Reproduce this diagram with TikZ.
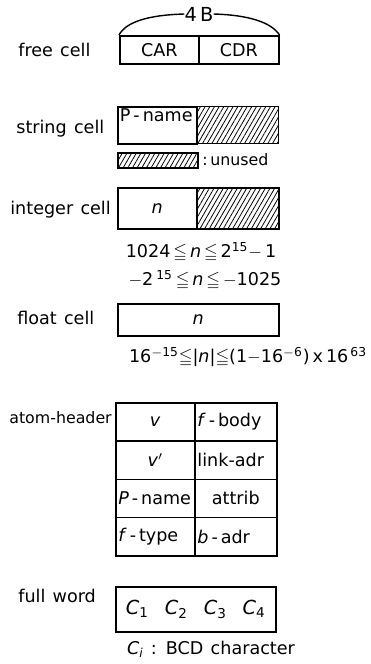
\documentclass[tikz,border=0pt]{standalone}
\usepackage{amsmath,amssymb}
\usepackage{fontspec}
\setmainfont[WordSpace=1.3]{DejaVu Sans}
\usetikzlibrary{patterns.meta}

\begin{document}
\begin{tikzpicture}[
    x=0.02cm, y=-0.02cm,
    font=\fontsize{10}{12}\selectfont,
    % Styles
    cell/.style={rectangle, draw=black, line width=0.9pt, inner sep=0pt, anchor=north west, minimum height=#1},
    cell/.default=0.56cm,
    unused/.style={pattern={Lines[angle=60,distance=2.3pt,line width=0.45pt]}},
    lcell/.style={cell=#1, text width=1.64cm-3pt, inner xsep=1.5pt, align=left},
    tag/.style={anchor=west, inner sep=0pt},
    note/.style={inner sep=0pt},
    arc/.style={line width=0.8pt}
]
\useasboundingbox (0,0) rectangle (371,664);

% --- Free cell ---
\node[cell, minimum width=1.58cm] (car) at (119,35) {CAR};
\node[cell, minimum width=1.60cm] (cdr) at (198,35) {CDR};
\node[note, font=\fontsize{11}{12}\selectfont] (fourb) at (199,14) {4\,B};
\node[tag] (freelbl) at (18,50) {free cell};
\draw[arc] (car.north west) .. controls (126,22) and (148,15) .. (fourb.west);
\draw[arc] (cdr.north east) .. controls (271,22) and (248,15) .. (fourb.east);

% --- String cell ---
\node[cell=0.74cm, minimum width=1.58cm] (pname) at (117,106) {};
\node[cell=0.74cm, minimum width=1.64cm, unused] (strfree) at (196,106) {};
\node[anchor=north west, inner sep=1.5pt] (pnametxt) at (pname.north west) {P\,-\,name};
\node[tag] (strlbl) at (16,129) {string cell};

% legend
\node[cell=0.3cm, minimum width=1.60cm, unused] (legend) at (117,152) {};
\node[tag, font=\fontsize{9}{11}\selectfont] (legendtxt) at (202,160) {:\,unused};

% --- Integer cell ---
\node[cell=0.82cm, minimum width=1.58cm] (intn) at (117,187) {\textit{n}};
\node[cell=0.82cm, minimum width=1.64cm, unused] (intfree) at (196,187) {};
\node[tag] (intlbl) at (10,210) {integer cell};
\node[note] (intpos) at (201,252) {1024\,$\leqq$\,\textit{n}\,$\leqq$\,2\textsuperscript{15}$-$\,1};
\node[note] (intneg) at (205,280) {$-$2\,\textsuperscript{15}\,$\leqq$\,\textit{n}\,$\leqq$\,$-$1025};

% --- Float cell ---
\node[cell=0.64cm, minimum width=3.22cm] (floatn) at (117,303) {\textit{n}};
\node[tag] (floatlbl) at (17,318) {float cell};
\node[note] (floatrng) at (248,357) {16\textsuperscript{$-$15}$\leqq$|\textit{n}|$\leqq$(1$-$16\textsuperscript{$-$6})\,x\,16\textsuperscript{\,63}};

% --- Atom header ---
\node[cell=0.765cm, minimum width=1.58cm] (av) at (115,402) {\textit{v}};
\node[lcell=0.765cm] (afbody) at (194,402) {\textit{f}\,-\,body};
\node[cell=0.765cm, minimum width=1.58cm] (avp) at (115,440.25) {\textit{v}$'$};
\node[lcell=0.765cm] (alink) at (194,440.25) {link-adr};
\node[cell=0.765cm, minimum width=1.58cm, align=left, text width=1.58cm-3pt, inner xsep=1.5pt] (apname) at (115,478.5) {\textit{P}\,-\,name};
\node[cell=0.765cm, minimum width=1.64cm] (aattrib) at (194,478.5) {attrib};
\node[cell=0.765cm, minimum width=1.58cm, align=left, text width=1.58cm-3pt, inner xsep=1.5pt] (aftype) at (115,516.75) {\textit{f}\,-\,type};
\node[lcell=0.765cm] (abadr) at (194,516.75) {\textit{b}\,-\,adr};
\node[tag, font=\fontsize{9}{11}\selectfont] (atomlbl) at (9,418) {atom-header};

% --- Full word ---
\node[cell=0.9cm, minimum width=3.2cm, font=\fontsize{11}{12}\selectfont] (fullw) at (115,586) {\textit{C}\textsubscript{1}\ \ \textit{C}\textsubscript{2}\ \ \textit{C}\textsubscript{3}\ \ \textit{C}\textsubscript{4}};
\node[tag] (fulllbl) at (18,596) {full word};
\node[note] (bcd) at (211,649) {\textit{C}\textsubscript{\textit{i}} : BCD character};

\end{tikzpicture}
\end{document}
